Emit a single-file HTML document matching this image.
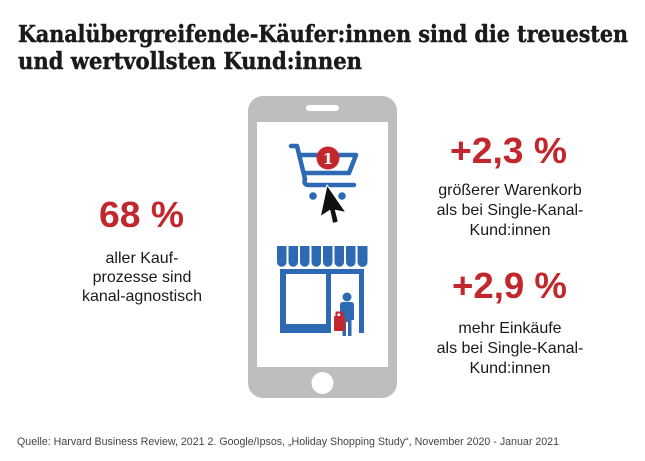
<!DOCTYPE html>
<html>
<head>
<meta charset="utf-8">
<style>
html,body{margin:0;padding:0;background:#fff;}
svg{display:block;}
</style>
</head>
<body>
<svg width="645" height="461" viewBox="0 0 645 461" xmlns="http://www.w3.org/2000/svg">
  <rect width="645" height="461" fill="#ffffff"/>
  <!-- Title -->
  <g font-family="'DejaVu Serif','Liberation Serif',serif" font-weight="bold" font-size="23" fill="#1a1a1a" stroke="#1a1a1a" stroke-width="0.45">
    <text x="18" y="42" textLength="610" lengthAdjust="spacingAndGlyphs">Kanalübergreifende-Käufer:innen sind die treuesten</text>
    <text x="18" y="69" textLength="344" lengthAdjust="spacingAndGlyphs">und wertvollsten Kund:innen</text>
  </g>

  <!-- Phone -->
  <rect x="248" y="96" width="149" height="302" rx="15" fill="#bcbec0"/>
  <rect x="257" y="122" width="131" height="245" fill="#ffffff"/>
  <rect x="306" y="105" width="33" height="6" rx="3" fill="#ffffff"/>
  <circle cx="322.5" cy="383" r="11" fill="#ffffff"/>

  <!-- Cart -->
  <g fill="none" stroke="#2e69b3" stroke-width="4.5" stroke-linecap="round" stroke-linejoin="round">
    <path d="M291,146 H297 L305,179"/>
    <path d="M300,155 H356 L349,173 H305"/>
    <path d="M305,179 Q303,185 309,185 H354"/>
  </g>
  <circle cx="313" cy="196" r="3.8" fill="#2e69b3"/>
  <circle cx="342" cy="196" r="3.8" fill="#2e69b3"/>
  <circle cx="328" cy="158" r="11.5" fill="#c1272d"/>
  <text x="328" y="164" text-anchor="middle" font-family="'DejaVu Serif','Liberation Serif',serif" font-weight="bold" font-size="15" fill="#ffffff">1</text>
  <!-- Cursor -->
  <g transform="translate(327,185) rotate(12) scale(1.35)">
    <path d="M0,0 L0,24 L6,18 L10,27 L14,25 L10,17 L18,17 Z" fill="#111" stroke="#ffffff" stroke-width="0.8" stroke-linejoin="round"/>
  </g>

  <!-- Store -->
  <g fill="#2e69b3">
    <path d="M277,246 h9.5 v16 a4.75,4.75 0 0 1 -9.5,0 z"/>
    <path d="M288.5,246 h9.5 v16 a4.75,4.75 0 0 1 -9.5,0 z"/>
    <path d="M300,246 h9.5 v16 a4.75,4.75 0 0 1 -9.5,0 z"/>
    <path d="M311.5,246 h9.5 v16 a4.75,4.75 0 0 1 -9.5,0 z"/>
    <path d="M323,246 h9.5 v16 a4.75,4.75 0 0 1 -9.5,0 z"/>
    <path d="M334.5,246 h9.5 v16 a4.75,4.75 0 0 1 -9.5,0 z"/>
    <path d="M346,246 h9.5 v16 a4.75,4.75 0 0 1 -9.5,0 z"/>
    <path d="M357.5,246 h10 v16 a5,5 0 0 1 -10,0 z"/>
    <!-- frame -->
    <rect x="280" y="269" width="84" height="5"/>
    <rect x="280" y="269" width="6" height="64"/>
    <rect x="280" y="324" width="51" height="9"/>
    <rect x="326" y="269" width="5" height="64"/>
    <rect x="359" y="269" width="5" height="64"/>
    <!-- person -->
    <circle cx="347" cy="297" r="4.5"/>
    <path d="M340,305 Q340,302 343,302 H351 Q354,302 354,305 V320 H351.5 V336 H348 V322 H346 V336 H342.5 V320 H340 Z"/>
  </g>
  <!-- bag -->
  <rect x="334" y="316" width="11" height="15" rx="1" fill="#c1272d"/>
  <path d="M336.5,316 V312.5 H342.5 V316" fill="none" stroke="#c1272d" stroke-width="2"/>

  <!-- Left stat -->
  <text x="141.5" y="227" text-anchor="middle" font-family="'Liberation Sans',sans-serif" font-weight="bold" font-size="36" fill="#c1272d" textLength="85" lengthAdjust="spacingAndGlyphs">68 %</text>
  <g font-family="'Liberation Sans',sans-serif" font-size="16" fill="#1a1a1a" text-anchor="middle">
    <text x="142" y="263">aller Kauf-</text>
    <text x="142" y="282">prozesse sind</text>
    <text x="142" y="301">kanal-agnostisch</text>
  </g>

  <!-- Right stats -->
  <text x="508.5" y="163" text-anchor="middle" font-family="'Liberation Sans',sans-serif" font-weight="bold" font-size="36" fill="#c1272d" textLength="117" lengthAdjust="spacingAndGlyphs">+2,3 %</text>
  <g font-family="'Liberation Sans',sans-serif" font-size="16" fill="#1a1a1a" text-anchor="middle">
    <text x="510" y="195">größerer Warenkorb</text>
    <text x="510" y="215">als bei Single-Kanal-</text>
    <text x="510" y="235">Kund:innen</text>
  </g>
  <text x="509.5" y="298" text-anchor="middle" font-family="'Liberation Sans',sans-serif" font-weight="bold" font-size="36" fill="#c1272d" textLength="115" lengthAdjust="spacingAndGlyphs">+2,9 %</text>
  <g font-family="'Liberation Sans',sans-serif" font-size="16" fill="#1a1a1a" text-anchor="middle">
    <text x="510" y="333">mehr Einkäufe</text>
    <text x="510" y="353">als bei Single-Kanal-</text>
    <text x="510" y="373">Kund:innen</text>
  </g>

  <!-- Footer -->
  <text x="17" y="445" font-family="'Liberation Sans',sans-serif" font-size="11" fill="#444" textLength="542" lengthAdjust="spacingAndGlyphs">Quelle: Harvard Business Review, 2021 2. Google/Ipsos, „Holiday Shopping Study“, November 2020 - Januar 2021</text>
</svg>
</body>
</html>
